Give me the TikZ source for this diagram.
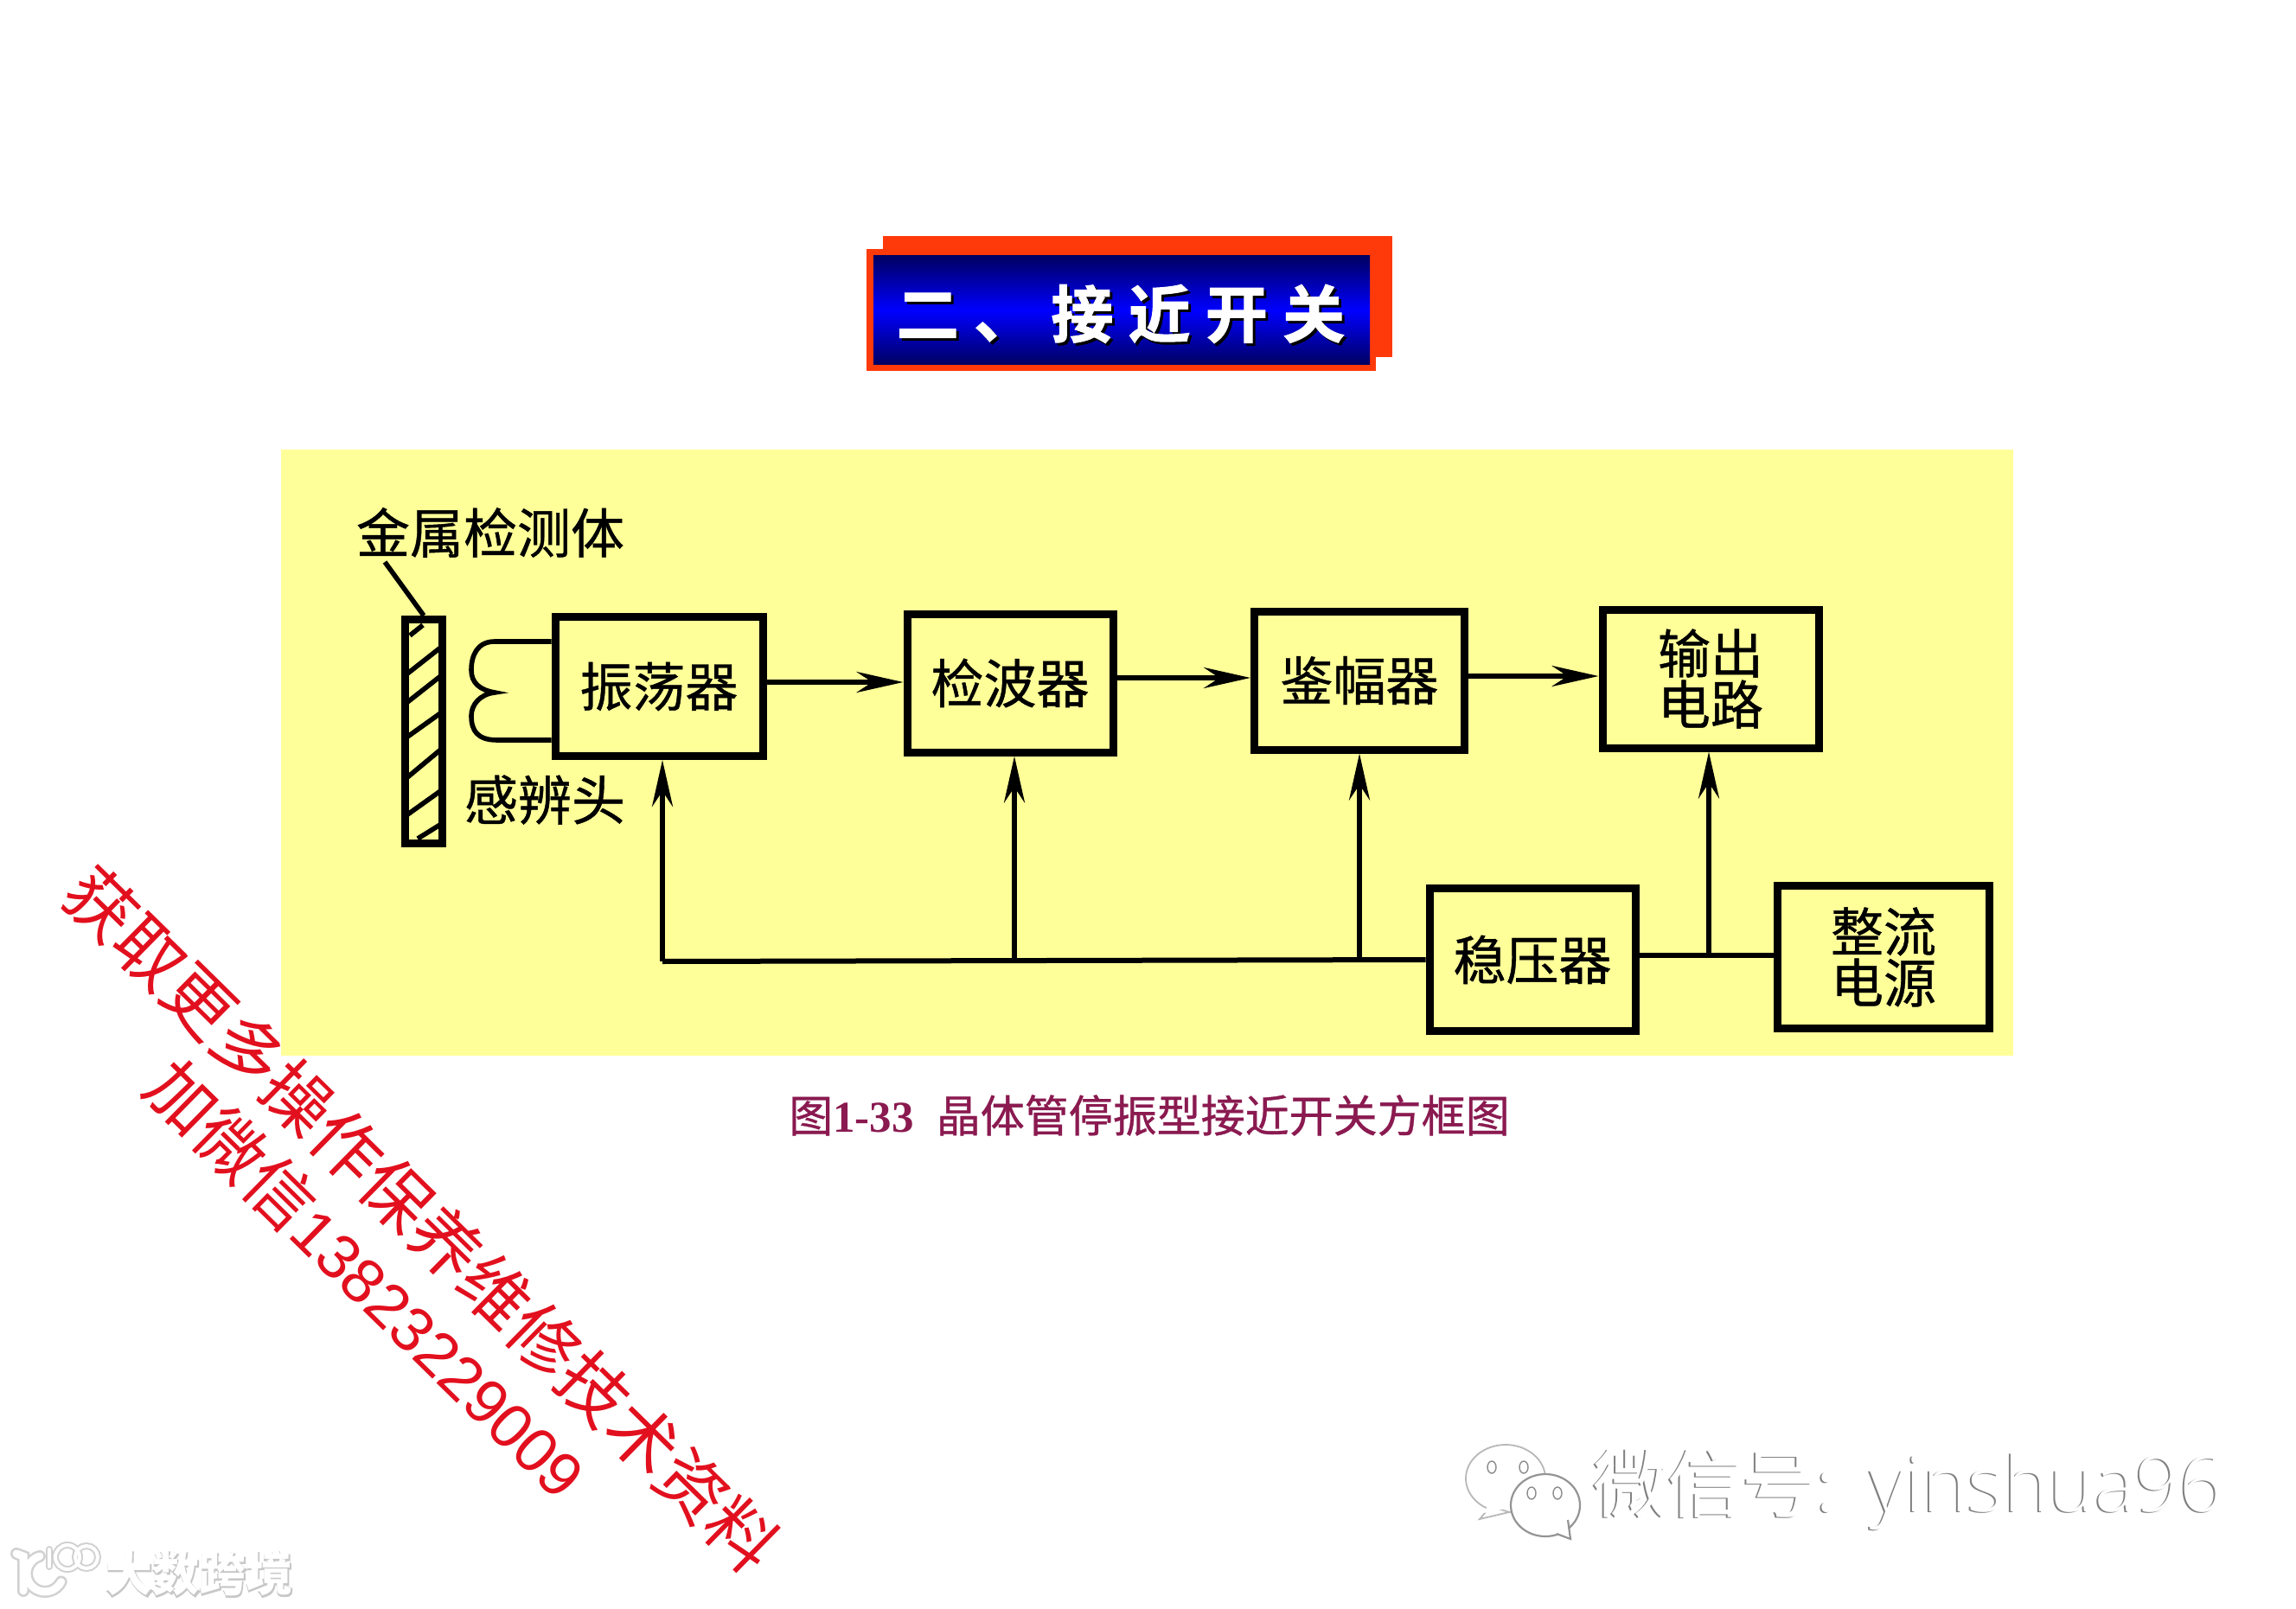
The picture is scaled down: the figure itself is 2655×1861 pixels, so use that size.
\documentclass[tikz,border=0pt]{standalone}
\usepackage{fontspec}
\usetikzlibrary{arrows.meta,calc}
\setmainfont{Liberation Serif}
\newfontfamily\cjk{Noto Sans CJK SC}
\newfontfamily\cjkmid{Noto Sans CJK SC}[FakeBold=0.7]
\newfontfamily\cjkfat{Noto Sans CJK SC}[FakeBold=1.5,BoldFont={Noto Sans CJK SC Bold}]
\newfontfamily\cjkhalo{Noto Sans CJK SC}[FakeBold=5,BoldFont={Noto Sans CJK SC Bold}]
\newfontfamily\latinwm{Open Sans Light}
\newfontfamily\arialwm{Liberation Sans}
\definecolor{panel}{HTML}{FFFF99}
\definecolor{titlered}{HTML}{FF3A0A}
\definecolor{capcol}{HTML}{8A1A50}
\definecolor{wmred}{HTML}{E2101E}
\newcommand{\wxtext}{{\cjk 微信号:}\hspace{19pt}{\latinwm\fontsize{44.5}{44.5}\selectfont yinshua96}}
\newcommand{\titletext}{二、接近开关}
\tikzset{
  blockbox/.style={draw=black,line width=4.5pt,inner sep=0pt,align=center,
    font=\cjkmid\fontsize{30.5}{29.5}\selectfont},
  lbl/.style={inner sep=0pt,font=\cjkmid\fontsize{31}{31}\selectfont},
  feed/.style={line width=3pt,-{Stealth[length=27pt,width=12pt,inset=9pt]}},
  wire/.style={line width=3pt},
  hatchline/.style={line width=2.8pt},
  wmline/.style={inner sep=0pt,text=wmred,rotate=-44.5},
  bubble/.style={draw=black!28,fill=white,line width=.9pt},
  bubblefront/.style={draw=black!42,fill=white,line width=1.1pt},
  eye/.style={draw=black!45,fill=white,line width=.7pt},
  logohalo/.style={draw=black!18},
  logoface/.style={draw=white},
}
\begin{document}
\begin{tikzpicture}[x=0.5pt,y=-0.5pt]
\useasboundingbox (0,0) rectangle (2655,1861);
\fill[white] (0,0) rectangle (2655,1861);

% title banner
\fill[titlered] (1021,273) rectangle (1610,413);
\fill[titlered] (1002,288) rectangle (1591,429);
\shade[top color=blue!38!black,bottom color=blue!38!black,middle color=blue] (1010,296) rectangle (1584,422);
\node[text=black,inner sep=0pt,font={\cjkfat\bfseries\fontsize{36}{36}\selectfont\addfontfeatures{LetterSpace=24}}] (titleshadow) at (1299,366) {\titletext};
\node[text=white,inner sep=0pt,font={\cjkfat\bfseries\fontsize{36}{36}\selectfont\addfontfeatures{LetterSpace=24}}] (title) at (1296,363) {\titletext};

% panel
\fill[panel] (325,520) rectangle (2328,1221);

% blocks
\node[blockbox,minimum width=120pt,minimum height=80.5pt] (osc) at (762,794) {振荡器};
\node[blockbox,minimum width=119pt,minimum height=80pt] (det) at (1168,790) {检波器};
\node[blockbox,minimum width=121.5pt,minimum height=80pt] (amp) at (1572,787) {鉴幅器};
\node[blockbox,minimum width=125pt,minimum height=80pt] (out) at (1978,785) {输出\\电路};
\node[blockbox,minimum width=119pt,minimum height=82.5pt] (reg) at (1772,1110) {稳压器};
\node[blockbox,minimum width=122.5pt,minimum height=82.5pt] (pwr) at (2178,1107) {整流\\电源};

% metal body
\node[draw=black,line width=4.5pt,minimum width=21.5pt,minimum height=129.5pt,inner sep=0pt] (bar) at (490,846) {};
\draw[hatchline] (474,735) -- (489,723);
\draw[hatchline] (470,780) -- (512,747);
\draw[hatchline] (470,813) -- (512,780);
\draw[hatchline] (470,853) -- (512,823);
\draw[hatchline] (470,900) -- (512,865);
\draw[hatchline] (470,943) -- (512,913);
\draw[hatchline] (483,970) -- (512,952);

\node[lbl] (metal) at (567,616) {金属检测体};
\node[lbl] (head) at (630,925) {感辨头};
\coordinate (leadstart) at (445,650);
\draw[line width=2.8pt] (leadstart) -- (bar.north);

% coil
\coordinate (coilT) at (osc.west |- 0,742);
\coordinate (coilB) at (osc.west |- 0,856);
\draw[line width=2.8pt] (coilT) -- (572,742) .. controls (552,742) and (545,758) .. (545,775)
  .. controls (545,790) and (555,798) .. (572,801)
  .. controls (555,803) and (545,815) .. (545,828)
  .. controls (545,845) and (552,856) .. (575,856) -- (coilB);

% forward arrows
\draw[feed] (osc.east |- 0,789) -- (det.west |- 0,789);
\draw[feed] (det.east |- 0,784) -- (amp.west |- 0,784);
\draw[feed] (amp.east |- 0,782) -- (out.west |- 0,782);

% supply bus
\coordinate (busL) at (766,1112);
\coordinate (busA) at (1173,1111);
\coordinate (busB) at (1572,1110);
\coordinate (busC) at (1976,1105);
\draw[wire] (reg.west) -- (busL);
\draw[feed] (busL) -- (busL |- osc.south);
\draw[feed] (busA) -- (busA |- det.south);
\draw[feed] (busB) -- (busB |- amp.south);
\draw[feed] (busC) -- (busC |- out.south);
\draw[wire] (reg.east |- busC) -- (pwr.west |- busC);

% caption
\node[inner sep=0pt,text=capcol,font=\fontsize{25.5}{25.5}\selectfont] (cap) at (1329,1290)
  {{\cjkmid 图}{\bfseries 1-33}\hspace{13pt}{\cjkmid 晶体管停振型接近开关方框图}};

% red watermark
\node[wmline] (wm1) at (488,1410) {\cjk\fontsize{40}{40}\selectfont 获取更多操作保养维修技术资料};
\node[wmline] (wm2) at (425,1479) {\fontsize{39.5}{40}\selectfont{\cjk 加微信}{\arialwm\fontsize{36}{40}\selectfont 13823229009}};

% lower-left logo
\begin{scope}[line cap=round]
  \draw[logohalo,line width=7pt] (19,1797) -- (27,1800) -- (27,1840);
  \draw[logohalo,line width=7pt] ([shift=(253:21)]52,1820) arc[start angle=253,end angle=27,radius=21];
  \draw[logohalo,line width=4pt] (57,1792) -- (57,1812);
  \draw[logohalo,line width=4pt] (78,1801) circle[radius=14];
  \draw[logohalo,line width=4pt] (100,1801) circle[radius=13];
  \draw[logoface,line width=4.5pt] (19,1797) -- (27,1800) -- (27,1840);
  \draw[logoface,line width=4.5pt] ([shift=(253:21)]52,1820) arc[start angle=253,end angle=27,radius=21];
  \draw[logoface,line width=2pt] (57,1792) -- (57,1812);
  \draw[logoface,line width=2pt] (78,1801) circle[radius=14];
  \draw[logoface,line width=2pt] (100,1801) circle[radius=13];
\end{scope}
\node[inner sep=0pt,text=black!22,font={\cjkhalo\bfseries\fontsize{27}{27}\selectfont}] (logoshadow) at (231,1821) {大数跨境};
\node[inner sep=0pt,text=white,font={\cjk\bfseries\fontsize{27}{27}\selectfont}] (logotext) at (230,1820) {大数跨境};

% WeChat mark
\draw[bubble] (1741,1710) ellipse[x radius=46,y radius=39];
\path[bubble] (1724,1742) -- (1711,1757) -- (1745,1749) -- cycle;
\fill[white] (1722,1738) -- (1716,1750) -- (1745,1744) -- (1745,1735) -- cycle;
\draw[bubblefront] (1787,1741) ellipse[x radius=40,y radius=36];
\path[bubblefront] (1800,1774) -- (1816,1780) -- (1813,1758);
\fill[white] (1796,1768) -- (1811,1773) -- (1810,1755) -- cycle;
\draw[eye] (1725,1697) ellipse[x radius=5,y radius=7];
\draw[eye] (1762,1697) ellipse[x radius=5,y radius=7];
\draw[eye] (1771,1727) ellipse[x radius=5,y radius=7];
\draw[eye] (1801,1727) ellipse[x radius=5,y radius=7];
\node[inner sep=0pt,anchor=base west,text=black!50,font=\fontsize{43}{43}\selectfont] (wxedge) at (1840,1749) {\wxtext};
\node[inner sep=0pt,anchor=base west,text=white,font=\fontsize{43}{43}\selectfont] (wxtop) at (1842,1748) {\wxtext};
\end{tikzpicture}
\end{document}
